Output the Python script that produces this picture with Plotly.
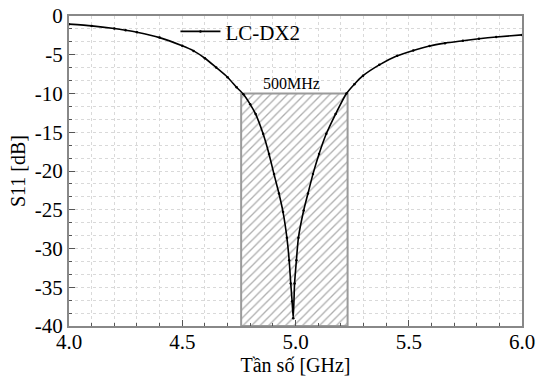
import plotly.graph_objects as go

# Data
freq_ghz = [4.00, 4.10, 4.20, 4.25, 4.30, 4.40, 4.50, 4.55, 4.60, 4.65, 4.70, 4.74,
            4.77, 4.80, 4.824, 4.857, 4.883, 4.905, 4.927, 4.945, 4.962, 4.972, 4.979,
            4.985, 4.99, 4.996, 5.004, 5.013, 5.036, 5.055, 5.077, 5.104, 5.136, 5.177,
            5.225, 5.26, 5.298, 5.37, 5.449, 5.52, 5.592, 5.66, 5.739, 5.81, 5.886, 6.00]
s11_db = [-1.05, -1.28, -1.62, -1.84, -2.1, -2.79, -3.85, -4.5, -5.45, -6.65, -7.9, -9.2,
          -10.1, -11.4, -12.65, -15.2, -17.8, -20.4, -22.9, -25.3, -28.6, -31.5, -34.5,
          -36.8, -39.0, -34.5, -31.5, -28.6, -25.1, -22.9, -20.4, -17.8, -15.2, -12.65,
          -10.0, -8.8, -7.7, -6.3, -5.14, -4.45, -3.86, -3.5, -3.2, -2.93, -2.7, -2.44]
series_name = "LC-DX2"

band_edges = [4.76, 5.23]
band_level = -10
band_floor = -40
band_label = "500MHz"

x_ticks = [4.0, 4.5, 5.0, 5.5, 6.0]
y_ticks = [0, -5, -10, -15, -20, -25, -30, -35, -40]

FONT = "Liberation Serif"

fig = go.Figure()

# hatched bandwidth box
fig.add_trace(go.Scatter(
    x=[band_edges[0], band_edges[0], band_edges[1], band_edges[1], band_edges[0]],
    y=[band_floor, band_level, band_level, band_floor, band_floor],
    mode="lines", fill="toself",
    fillcolor="rgba(0,0,0,0)",
    fillpattern=dict(shape="/", fgcolor="#5e5e5e", bgcolor="white", size=6, solidity=0.22),
    line=dict(color="#9a9a9a", width=2),
    showlegend=False, hoverinfo="skip",
))

fig.add_trace(go.Scatter(
    x=freq_ghz, y=s11_db, mode="lines+markers", name=series_name,
    line=dict(color="black", width=1.6, shape="spline", smoothing=0.6),
    marker=dict(size=2.5, color="black"),
))

fig.add_annotation(x=sum(band_edges) / 2, y=band_level, text=band_label,
                   showarrow=False, yanchor="bottom", yshift=0, xshift=-3,
                   font=dict(family=FONT, size=16, color="black"))

axis_common = dict(
    showline=True, linecolor="#888888", linewidth=2, mirror=True,
    ticks="inside", ticklen=6, tickcolor="#555555", tickwidth=1.2,
    showgrid=True, gridcolor="#d9d9d9", griddash="dot", gridwidth=1,
    zeroline=False, automargin=False,
    tickfont=dict(family=FONT, size=21, color="black"),
)

fig.update_xaxes(
    range=[4.0, 6.0], tickvals=x_ticks, ticktext=[f"{v:.1f}" for v in x_ticks],
    ticklabelstandoff=-4,
    title=dict(text="Tần số [GHz]", font=dict(family=FONT, size=20, color="black"), standoff=0),
    minor=dict(dtick=0.1, tick0=4.0, ticks="inside", ticklen=3, tickcolor="#555555",
               showgrid=True, gridcolor="#d9d9d9", griddash="dot"),
    **axis_common,
)
fig.update_yaxes(
    range=[-40, 0], tickvals=y_ticks, ticktext=[str(v) for v in y_ticks],
    title=dict(text="S11 [dB]", font=dict(family=FONT, size=20, color="black"), standoff=4),
    minor=dict(dtick=5 / 3, tick0=0, ticks="inside", ticklen=3, tickcolor="#555555",
               showgrid=True, gridcolor="#d9d9d9", griddash="dot"),
    **axis_common,
)

fig.update_layout(
    width=536, height=376,
    font=dict(family=FONT, color="black"),
    margin=dict(l=69, r=14, t=15, b=50),
    paper_bgcolor="white", plot_bgcolor="white",
    legend=dict(x=0.235, y=1.012, xanchor="left", yanchor="top",
                bgcolor="rgba(255,255,255,0)", itemwidth=40,
                font=dict(family=FONT, size=21, color="black")),
)

fig.write_html("out.html")
